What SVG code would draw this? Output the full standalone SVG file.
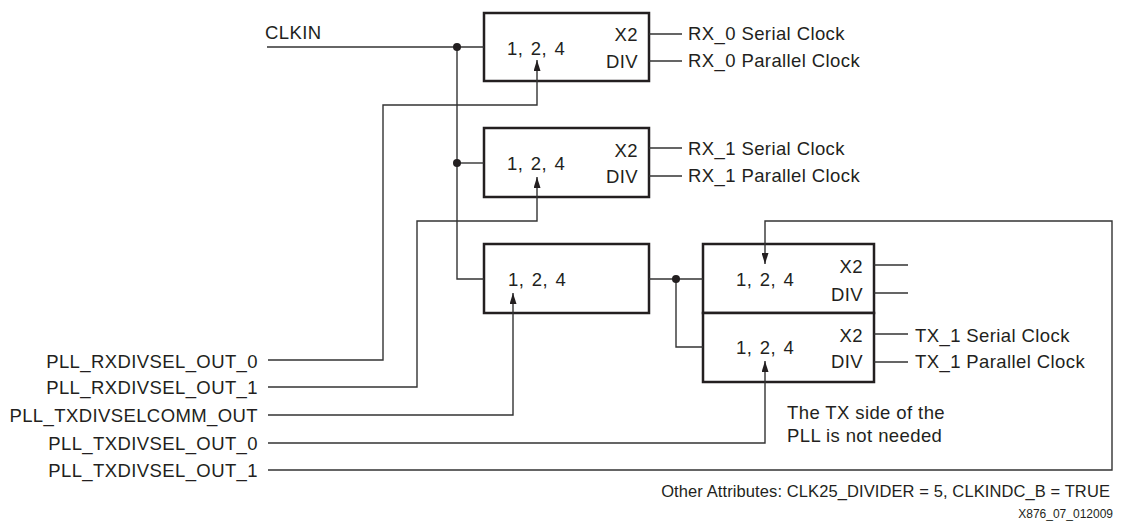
<svg xmlns="http://www.w3.org/2000/svg" width="1126" height="521" viewBox="0 0 1126 521">
<style>
  text { font-family: "Liberation Sans", Arial, Helvetica, sans-serif; fill: #231f20; }
  .t { font-size: 18.5px; letter-spacing: 0.4px; }
  .n { word-spacing: 2px; }
  .e { text-anchor: end; }
  .note { font-size: 16.5px; letter-spacing: 0.1px; }
  .id { font-size: 12px; }
  .box { fill: #fff; stroke: #231f20; stroke-width: 2.5; }
  .w { fill: none; stroke: #333; stroke-width: 1.4; }
  .dot { fill: #231f20; }
</style>
<defs>
  <marker id="arr" markerUnits="userSpaceOnUse" markerWidth="11" markerHeight="7" refX="11" refY="3.5" orient="auto">
    <path d="M0,0 L11,3.5 L0,7 z" fill="#231f20"/>
  </marker>
</defs>
<rect width="1126" height="521" fill="#fff"/>

<g id="clkin">
  <text class="t" x="265" y="39">CLKIN</text>
</g>

<g id="rx0">
  <rect class="box" x="484" y="13" width="165" height="68"/>
  <text class="t n" x="507" y="55">1, 2, 4</text>
  <text class="t e" x="638" y="41">X2</text>
  <text class="t e" x="638" y="68">DIV</text>
</g>

<g id="rx1">
  <rect class="box" x="484" y="128" width="165" height="69"/>
  <text class="t n" x="507" y="170">1, 2, 4</text>
  <text class="t e" x="638" y="157">X2</text>
  <text class="t e" x="638" y="183">DIV</text>
</g>

<g id="txcomm">
  <rect class="box" x="484" y="244" width="165" height="69"/>
  <text class="t n" x="508" y="286">1, 2, 4</text>
</g>

<g id="tx0">
  <rect class="box" x="703" y="244" width="171" height="69"/>
  <text class="t n" x="736" y="286">1, 2, 4</text>
  <text class="t e" x="863" y="273">X2</text>
  <text class="t e" x="863" y="301">DIV</text>
</g>

<g id="tx1">
  <rect class="box" x="703" y="313" width="171" height="69"/>
  <text class="t n" x="736" y="354">1, 2, 4</text>
  <text class="t e" x="863" y="342">X2</text>
  <text class="t e" x="863" y="368">DIV</text>
</g>

<g id="connectors">
  <path class="w" d="M267,47 H484"/>
  <path class="w" d="M457,47 V279 H484"/>
  <path class="w" d="M457,163 H484"/>
  <path class="w" d="M268,360 H383 V105 H537 V60" marker-end="url(#arr)"/>
  <path class="w" d="M268,387 H417 V221 H537 V177" marker-end="url(#arr)"/>
  <path class="w" d="M268,415 H513 V293" marker-end="url(#arr)"/>
  <path class="w" d="M268,443 H765 V361" marker-end="url(#arr)"/>
  <path class="w" d="M268,470 H1112 V221 H765 V264" marker-end="url(#arr)"/>
  <path class="w" d="M649,279 H703"/>
  <path class="w" d="M676,279 V347 H703"/>
  <path class="w" d="M649,34 H682 M649,61 H682"/>
  <path class="w" d="M649,148 H682 M649,176 H682"/>
  <path class="w" d="M874,265 H908 M874,293 H908"/>
  <path class="w" d="M874,334 H908 M874,362 H908"/>
  <circle class="dot" cx="457" cy="47" r="4"/>
  <circle class="dot" cx="457" cy="163" r="4"/>
  <circle class="dot" cx="676" cy="279" r="4"/>
</g>

<g id="out-labels">
  <text class="t" x="688" y="40">RX_0 Serial Clock</text>
  <text class="t" x="688" y="67">RX_0 Parallel Clock</text>
  <text class="t" x="688" y="155">RX_1 Serial Clock</text>
  <text class="t" x="688" y="182">RX_1 Parallel Clock</text>
  <text class="t" x="915" y="342">TX_1 Serial Clock</text>
  <text class="t" x="915" y="368">TX_1 Parallel Clock</text>
</g>

<g id="in-labels">
  <text class="t e" x="258" y="368">PLL_RXDIVSEL_OUT_0</text>
  <text class="t e" x="258" y="394">PLL_RXDIVSEL_OUT_1</text>
  <text class="t e" x="258" y="422">PLL_TXDIVSELCOMM_OUT</text>
  <text class="t e" x="258" y="450">PLL_TXDIVSEL_OUT_0</text>
  <text class="t e" x="258" y="477">PLL_TXDIVSEL_OUT_1</text>
</g>

<g id="notes">
  <text class="t" x="787" y="419">The TX side of the</text>
  <text class="t" x="787" y="442">PLL is not needed</text>
  <text class="note e" x="1110" y="497">Other Attributes: CLK25_DIVIDER = 5, CLKINDC_B = TRUE</text>
  <text class="id e" x="1113" y="518">X876_07_012009</text>
</g>
</svg>
